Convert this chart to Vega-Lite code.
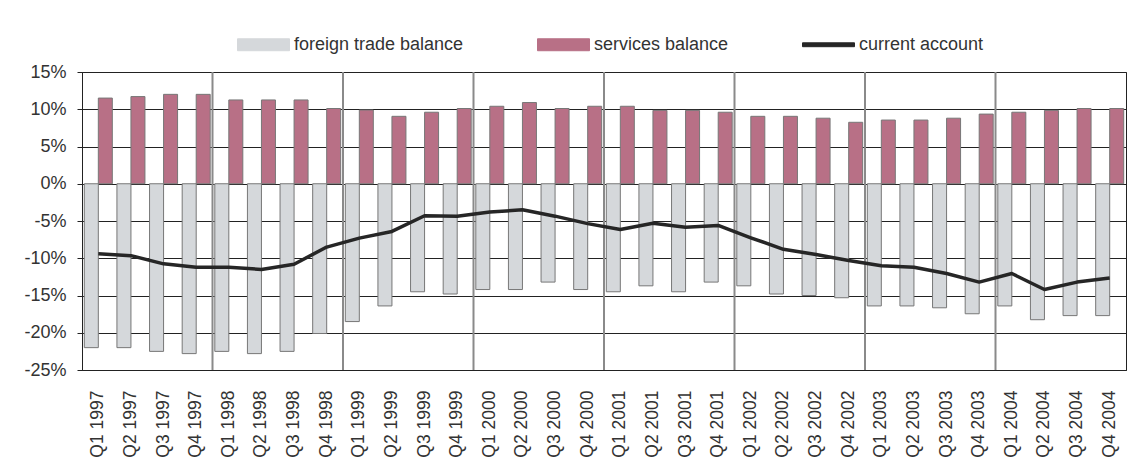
{
  "$schema": "https://vega.github.io/schema/vega-lite/v6.json",
  "width": 1044,
  "height": 298,
  "autosize": {"type": "none"},
  "padding": {"left": 82, "top": 72, "right": 5, "bottom": 97},
  "background": "white",
  "config": {
    "font": "Liberation Sans",
    "view": {"stroke": "#222", "strokeWidth": 1},
    "axis": {"labelFont": "Liberation Sans", "labelColor": "#333"}
  },
  "data": {
    "values": [
      {"q": "Q1 1997", "trade": -22.0, "services": 11.5, "current": -9.4},
      {"q": "Q2 1997", "trade": -22.0, "services": 11.7, "current": -9.65},
      {"q": "Q3 1997", "trade": -22.5, "services": 12.0, "current": -10.75},
      {"q": "Q4 1997", "trade": -22.8, "services": 12.0, "current": -11.2},
      {"q": "Q1 1998", "trade": -22.5, "services": 11.25, "current": -11.2},
      {"q": "Q2 1998", "trade": -22.8, "services": 11.25, "current": -11.5},
      {"q": "Q3 1998", "trade": -22.5, "services": 11.25, "current": -10.8},
      {"q": "Q4 1998", "trade": -20.1, "services": 10.1, "current": -8.5},
      {"q": "Q1 1999", "trade": -18.5, "services": 9.9, "current": -7.3},
      {"q": "Q2 1999", "trade": -16.4, "services": 9.05, "current": -6.4},
      {"q": "Q3 1999", "trade": -14.5, "services": 9.6, "current": -4.3},
      {"q": "Q4 1999", "trade": -14.8, "services": 10.1, "current": -4.35},
      {"q": "Q1 2000", "trade": -14.2, "services": 10.4, "current": -3.8},
      {"q": "Q2 2000", "trade": -14.2, "services": 10.9, "current": -3.5},
      {"q": "Q3 2000", "trade": -13.2, "services": 10.1, "current": -4.35},
      {"q": "Q4 2000", "trade": -14.2, "services": 10.4, "current": -5.35},
      {"q": "Q1 2001", "trade": -14.5, "services": 10.4, "current": -6.15},
      {"q": "Q2 2001", "trade": -13.7, "services": 9.85, "current": -5.3},
      {"q": "Q3 2001", "trade": -14.5, "services": 9.85, "current": -5.85},
      {"q": "Q4 2001", "trade": -13.2, "services": 9.6, "current": -5.6},
      {"q": "Q1 2002", "trade": -13.7, "services": 9.05, "current": -7.25},
      {"q": "Q2 2002", "trade": -14.8, "services": 9.05, "current": -8.8},
      {"q": "Q3 2002", "trade": -15.0, "services": 8.8, "current": -9.5},
      {"q": "Q4 2002", "trade": -15.3, "services": 8.25, "current": -10.3},
      {"q": "Q1 2003", "trade": -16.4, "services": 8.55, "current": -11.0},
      {"q": "Q2 2003", "trade": -16.4, "services": 8.55, "current": -11.2},
      {"q": "Q3 2003", "trade": -16.65, "services": 8.8, "current": -12.05},
      {"q": "Q4 2003", "trade": -17.45, "services": 9.35, "current": -13.2},
      {"q": "Q1 2004", "trade": -16.4, "services": 9.6, "current": -12.05},
      {"q": "Q2 2004", "trade": -18.25, "services": 9.85, "current": -14.2},
      {"q": "Q3 2004", "trade": -17.7, "services": 10.1, "current": -13.2},
      {"q": "Q4 2004", "trade": -17.7, "services": 10.1, "current": -12.65}
    ]
  },
  "layer": [
    {
      "mark": {"type": "rule", "color": "#8a8a8a", "strokeWidth": 2},
      "encoding": {
        "x": {"field": "q", "type": "nominal", "sort": null, "bandPosition": 0},
        "strokeOpacity": {"condition": {"test": "test(/^Q1/, datum.q) && datum.q != 'Q1 1997'", "value": 1}, "value": 0}
      }
    },
    {
      "transform": [{"fold": ["trade", "services"], "as": ["series", "value"]}],
      "mark": {"type": "bar", "stroke": "#777", "strokeWidth": 1},
      "encoding": {
        "x": {
          "field": "q",
          "type": "nominal",
          "sort": null,
          "scale": {"paddingInner": 0, "paddingOuter": 0},
          "axis": {
            "title": null,
            "labelAngle": -90,
            "labelFontSize": 17.5,
            "labelPadding": 20,
            "ticks": false,
            "domainColor": "#222",
            "grid": false
          }
        },
        "xOffset": {"field": "series", "type": "nominal", "scale": {"domain": ["trade", "services"], "paddingInner": 0, "paddingOuter": 0.165}},
        "y": {
          "field": "value",
          "type": "quantitative",
          "scale": {"domain": [-25, 15], "nice": false},
          "axis": {
            "title": null,
            "values": [-25, -20, -15, -10, -5, 0, 5, 10, 15],
            "tickCount": 12,
            "labelOverlap": false,
            "labelExpr": "datum.value + '%'",
            "labelFontSize": 18,
            "labelPadding": 11,
            "tickSize": 5,
            "tickColor": "#222",
            "domainColor": "#222",
            "gridColor": "#222",
            "gridWidth": 1
          }
        },
        "color": {
          "field": "series",
          "type": "nominal",
          "scale": {
            "domain": ["trade", "services", "current"],
            "range": ["#d5d8db", "#b87086", "#262626"]
          },
          "legend": {
            "title": null,
            "orient": "none",
            "direction": "horizontal",
            "columns": 3,
            "legendX": 155,
            "legendY": -54,
            "padding": 0,
            "columnPadding": 71,
            "labelOffset": 4,
            "labelFontSize": 18,
            "labelFont": "Liberation Sans",
            "labelColor": "#333",
            "labelLimit": 400,
            "labelExpr": "datum.value == 'trade' ? 'foreign trade balance' : datum.value == 'services' ? 'services balance' : 'current account'",
            "symbolSize": 2704,
            "symbolStrokeColor": "#666",
            "symbolStrokeWidth": 1,
            "symbolType": "M-1,-0.23H1V0.23H-1Z",
            "encode": {
              "symbols": {
                "update": {
                  "shape": {"signal": "datum.value == 'current' ? 'M-1,-0.075H1V0.075H-1Z' : 'M-1,-0.23H1V0.23H-1Z'"},
                  "stroke": {"signal": "datum.value == 'current' ? '#262626' : '#666'"}
                }
              }
            }
          }
        }
      }
    },
    {
      "mark": {"type": "line", "strokeWidth": 3.5, "strokeJoin": "round"},
      "encoding": {
        "x": {"field": "q", "type": "nominal", "sort": null},
        "y": {"field": "current", "type": "quantitative"},
        "color": {"datum": "current", "type": "nominal"}
      }
    }
  ]
}
